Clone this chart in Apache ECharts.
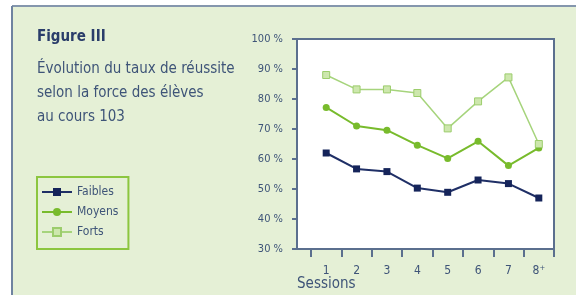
<!DOCTYPE html>
<html>
<head>
<meta charset="utf-8">
<script src="https://cdn.jsdelivr.net/npm/echarts@6/dist/echarts.min.js"></script>
<style>
	html, body { margin: 0; padding: 0; background: #fff; }
	#chart { width: 576px; height: 295px; }
</style>
</head>
<body>
<div id="chart"></div>
<script>
	// sessions
	var sessions = ['1', '2', '3', '4', '5', '6', '7', '8⁺']
	// taux de réussite (%)
	var faibles = [62, 56.7, 55.8, 50.3, 48.9, 53, 51.8, 47]
	var moyens = [77.2, 71, 69.6, 64.6, 60.2, 65.9, 57.8, 63.7]
	var forts = [88, 83.2, 83.2, 82, 70.2, 79.2, 87.2, 65]
	var yTicks = [30, 40, 50, 60, 70, 80, 90, 100]

	var font = '"Liberation Sans Narrow", "DejaVu Sans Condensed", sans-serif'
	var ink = '#3e5478'
	var frame = '#5b6f8e'

	var dom = echarts.init(document.getElementById('chart'))
	var option = {
		backgroundColor: '#fff',
		animation: false,
		textStyle: { fontFamily: font },
		graphic: [
			{ type: 'rect', shape: { x: 12, y: 6, width: 564, height: 289 }, style: { fill: '#e5f0d6' }, z: -10 },
			{ type: 'line', shape: { x1: 12, y1: 6, x2: 576, y2: 6 }, style: { stroke: '#8496ad', lineWidth: 2 }, z: -9 },
			{ type: 'line', shape: { x1: 12, y1: 6, x2: 12, y2: 295 }, style: { stroke: '#6f83a0', lineWidth: 2 }, z: -9 },
			{ type: 'text', left: 37, top: 30, style: { text: 'Figure III', font: 'bold 15px ' + font, fill: '#2a3d6a' } },
			{ type: 'text', left: 37, top: 57, style: { text: 'Évolution du taux de réussite\nselon la force des élèves\nau cours 103', font: '15px ' + font, lineHeight: 24, fill: ink } },
			{ type: 'text', left: 297, top: 277, style: { text: 'Sessions', font: '15px ' + font, fill: ink } }
		],
		legend: {
			left: 37,
			top: 177,
			orient: 'vertical',
			padding: [9, 10, 11, 4],
			itemWidth: 30,
			itemHeight: 10,
			itemGap: 8,
			itemTextGap: 13,
			borderColor: '#8cc63f',
			borderWidth: 2,
			textStyle: { color: ink, fontSize: 12, fontFamily: font },
			data: ['Faibles', 'Moyens', 'Forts']
		},
		grid: [
			{ left: 297, right: 22, top: 39, bottom: 46, show: true, backgroundColor: '#fff', borderColor: frame, borderWidth: 2 },
			{ left: 311, right: 22, top: 39, bottom: 46 }
		],
		xAxis: [
			{ gridIndex: 0, type: 'value', min: 0, max: 1, show: false },
			{
				gridIndex: 1,
				type: 'category',
				data: sessions,
				boundaryGap: true,
				axisLine: { show: false },
				axisTick: { show: true, alignWithLabel: false, length: 8, lineStyle: { color: frame, width: 2 } },
				axisLabel: { color: ink, fontSize: 12, margin: 16, fontFamily: font }
			}
		],
		yAxis: [
			{
				gridIndex: 0,
				type: 'value',
				min: 30,
				max: 100,
				interval: 10,
				axisLine: { show: true, lineStyle: { color: frame, width: 2 } },
				axisTick: { show: true, length: 5, lineStyle: { color: frame, width: 2 } },
				splitLine: { show: false },
				axisLabel: {
					color: ink,
					fontSize: 11,
					margin: 14,
					fontFamily: font,
					formatter: function (v) { return yTicks.indexOf(v) >= 0 ? v + ' %' : '' }
				}
			},
			{ gridIndex: 1, type: 'value', min: 30, max: 100, show: false }
		],
		series: [
			{
				name: 'Faibles',
				type: 'line',
				xAxisIndex: 1,
				yAxisIndex: 1,
				data: faibles,
				symbol: 'rect',
				symbolSize: 7,
				color: '#15245a',
				lineStyle: { width: 2, color: '#1f2f66' },
				itemStyle: { color: '#15245a' }
			},
			{
				name: 'Moyens',
				type: 'line',
				xAxisIndex: 1,
				yAxisIndex: 1,
				data: moyens,
				symbol: 'circle',
				symbolSize: 7,
				color: '#78bb2c',
				lineStyle: { width: 2, color: '#78bb2c' },
				itemStyle: { color: '#78bb2c' }
			},
			{
				name: 'Forts',
				type: 'line',
				xAxisIndex: 1,
				yAxisIndex: 1,
				data: forts,
				symbol: 'rect',
				symbolSize: 7,
				color: '#a6d47c',
				lineStyle: { width: 1.5, color: '#a6d47c' },
				itemStyle: { color: '#cde7ad', borderColor: '#9ccd6c', borderWidth: 1 }
			}
		]
	}
	dom.setOption(option)
</script>
</body>
</html>
